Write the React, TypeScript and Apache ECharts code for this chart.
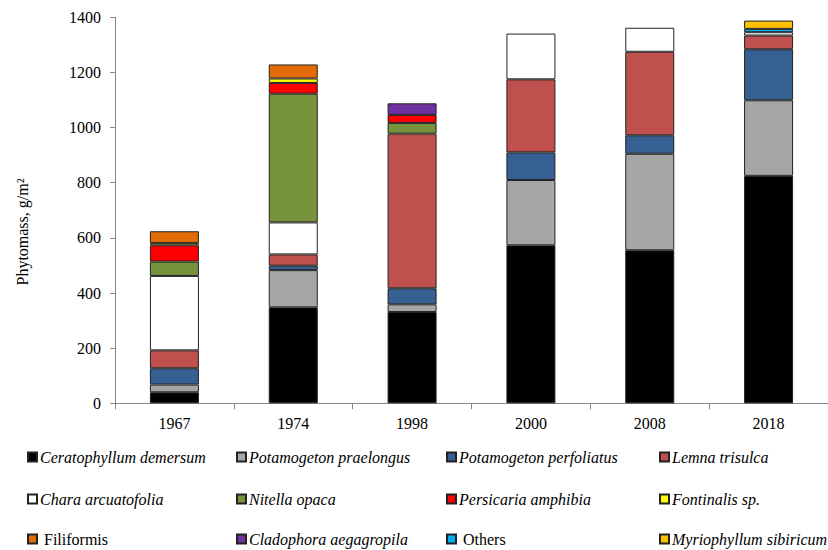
import React, { useEffect, useRef } from "react";
import * as echarts from "echarts";

// Sampling years
const years = ["1967", "1974", "1998", "2000", "2008", "2018"];

// Phytomass by taxon, g/m² (null = not recorded)
const ceratophyllum = [40, 348, 331, 573, 555, 825];
const praelongus = [28, 135, 28, 237, 350, 274];
const perfoliatus = [59, 16, 58, 100, 67, 185];
const lemna = [65, 41, 561, 265, 303, 50];
const chara = [270, 116, null, 166, 87, 12];
const nitella = [52, 467, 39, null, null, null];
const persicaria = [59, 39, 29, null, null, null];
const fontinalis = [8, 16, null, null, null, null];
const filiformis = [43, 51, null, null, null, null];
const cladophora = [null, null, 42, null, null, null];
const others = [null, null, null, null, null, 12];
const myriophyllum = [null, null, null, null, null, 30];

const yTicks = [0, 200, 400, 600, 800, 1000, 1200, 1400];

const taxa = [
  { name: "Ceratophyllum demersum", data: ceratophyllum, color: "#000000", italic: true },
  { name: "Potamogeton praelongus", data: praelongus, color: "#A6A6A6", italic: true },
  { name: "Potamogeton perfoliatus", data: perfoliatus, color: "#376092", italic: true },
  { name: "Lemna trisulca", data: lemna, color: "#C0504D", italic: true },
  { name: "Chara arcuatofolia", data: chara, color: "#FFFFFF", italic: true },
  { name: "Nitella opaca", data: nitella, color: "#77933C", italic: true },
  { name: "Persicaria amphibia", data: persicaria, color: "#FF0000", italic: true },
  { name: "Fontinalis sp.", data: fontinalis, color: "#FFFF00", italic: true },
  { name: "Filiformis", data: filiformis, color: "#E36C09", italic: false },
  { name: "Cladophora aegagropila", data: cladophora, color: "#7030A0", italic: true },
  { name: "Others", data: others, color: "#00B0F0", italic: false },
  { name: "Myriophyllum sibiricum", data: myriophyllum, color: "#FFC000", italic: true },
];

const FONT = "Liberation Serif";
const legendLefts = [27, 236, 446, 659];
const legendRows = [458, 500, 540];

export default function App() {
  const ref = useRef<HTMLDivElement>(null);

  useEffect(() => {
    if (!ref.current) return;
    const chart = echarts.init(ref.current, undefined, { renderer: "svg" });

    // one legend per entry, laid out in a 4 x 3 grid
    const legends = taxa.map((t, i) => {
      const textStyle = {
        fontFamily: FONT,
        fontSize: 16,
        color: "#000",
        fontStyle: t.italic ? "italic" : "normal",
        padding: [0, 0, 0, -2],
      };
      return {
        orient: "horizontal" as const,
        left: legendLefts[i % 4],
        top: legendRows[Math.floor(i / 4)] - 9,
        itemWidth: 9,
        itemHeight: 9,
        icon: "rect",
        padding: 0,
        formatter: (n: string) => (t.italic ? n : " " + n),
        textStyle,
        data: [{ name: t.name, textStyle }],
      };
    });

    chart.setOption({
      animation: false,
      backgroundColor: "#ffffff",
      textStyle: { fontFamily: FONT },
      grid: { left: 115, top: 17.3, width: 723, height: 386 },
      legend: legends,
      xAxis: {
        type: "category",
        data: years,
        axisLine: { lineStyle: { color: "#868686", width: 1 } },
        axisTick: { show: true, length: 6, lineStyle: { color: "#868686" } },
        axisLabel: { fontFamily: FONT, fontSize: 16, color: "#000", margin: 12 },
      },
      yAxis: {
        type: "value",
        min: yTicks[0],
        max: yTicks[yTicks.length - 1],
        interval: yTicks[1] - yTicks[0],
        splitLine: { show: false },
        axisLine: { show: true, lineStyle: { color: "#868686", width: 1 } },
        axisTick: { show: true, length: 5, lineStyle: { color: "#868686" } },
        axisLabel: {
          fontFamily: FONT,
          fontSize: 16,
          color: "#000",
          margin: 14,
          formatter: (v: number) => String(v),
        },
      },
      graphic: [
        {
          type: "text",
          x: 22,
          y: 232,
          rotation: Math.PI / 2,
          style: {
            text: "Phytomass, g/m²",
            fontFamily: FONT,
            fontSize: 16,
            fill: "#000",
            align: "center",
            verticalAlign: "middle",
          },
        },
      ],
      series: taxa.map((t) => ({
        name: t.name,
        type: "bar",
        stack: "total",
        barWidth: 49,
        data: t.data,
        itemStyle: { color: t.color, borderColor: "#222", borderWidth: 1 },
      })),
    });

    return () => chart.dispose();
  }, []);

  return (
    <div
      ref={ref}
      style={{ position: "fixed", left: 0, top: 0, width: 828, height: 550 }}
    />
  );
}
